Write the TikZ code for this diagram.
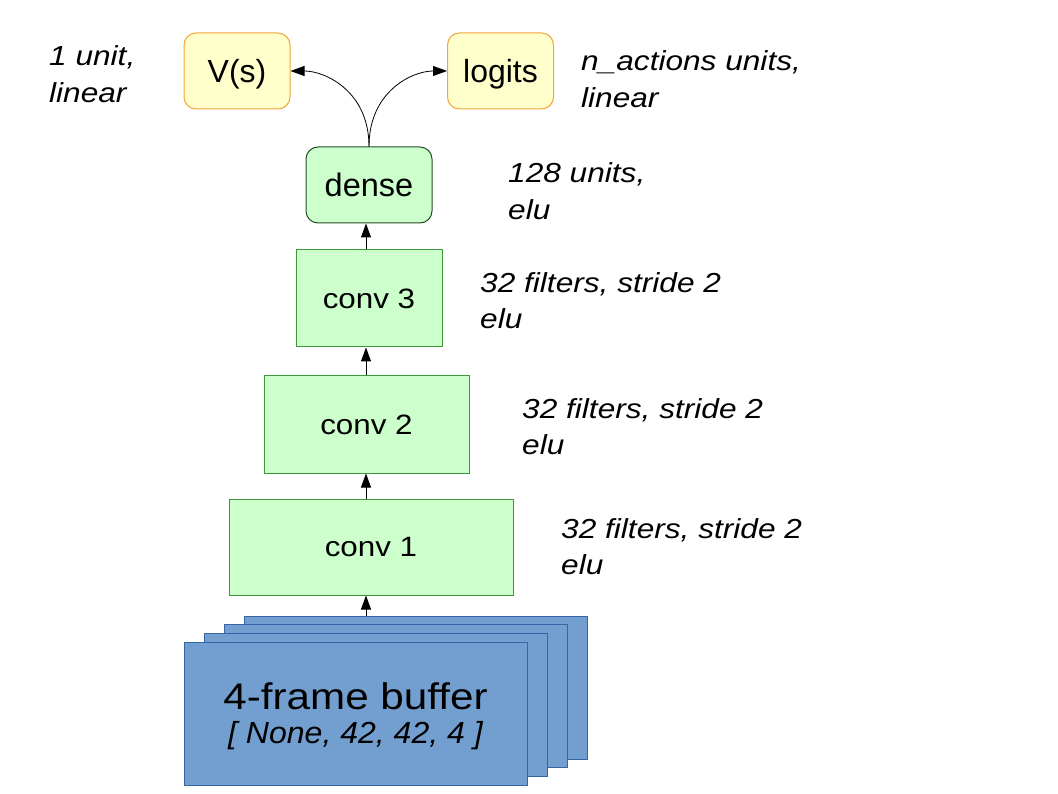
\documentclass[tikz,border=0pt]{standalone}
\usepackage{fontspec}
\setmainfont{Liberation Sans}
\newfontfamily\convfont{Liberation Sans}[FakeStretch=1.12]
\newfontfamily\notefont{Liberation Sans}[FakeStretch=1.15]
\newfontfamily\bufferfont{Liberation Sans}[FakeStretch=1.14]
\newfontfamily\shapefont{Liberation Sans}[FakeStretch=1.05]
\usetikzlibrary{arrows.meta}
\definecolor{outfill}{HTML}{FFFFCC}
\definecolor{outline}{HTML}{F2A33A}
\definecolor{layerfill}{HTML}{CCFFCC}
\definecolor{convline}{HTML}{3A9A3A}
\definecolor{denseline}{HTML}{244F24}
\definecolor{framefill}{HTML}{729FCF}
\definecolor{frameline}{HTML}{3465A4}
\tikzset{
  outbox/.style={draw=outline, fill=outfill, line width=1pt, rounded corners=12pt,
    minimum width=106pt, minimum height=76pt, inner sep=0pt, text depth=0pt,
    font=\fontsize{32}{36}\selectfont},
  densebox/.style={draw=denseline, fill=layerfill, line width=1pt, rounded corners=12pt,
    inner sep=0pt, text depth=0pt, font=\fontsize{32.5}{36}\selectfont},
  convbox/.style={draw=convline, fill=layerfill, line width=1pt, inner sep=0pt,
    font=\convfont\fontsize{28}{30}\selectfont},
  framebox/.style={draw=frameline, fill=framefill, line width=1pt, inner sep=0pt,
    minimum width=343pt, minimum height=143pt},
  % multi-line notes: the base anchor sits on the last line
  notetext/.style={anchor=base west, align=left, inner sep=0pt,
    font=\notefont\itshape\fontsize{27.5}{36.6}\selectfont},
  flow/.style={-{Triangle[length=14pt,width=10pt]}, line width=1pt},
  branch/.style={-{Triangle[length=14pt,width=10pt]}, line width=0.8pt},
}
\begin{document}
\begin{tikzpicture}[x=1pt, y=-1pt]
  \useasboundingbox (0,0) rectangle (1058,794);
  \coordinate (spine) at (366,0);

  % output heads
  \node[outbox] (vs) at (237,71) {V(s)};
  \node[outbox] (logits) at (500.5,71) {logits};

  % hidden layers
  \node[densebox, minimum width=126pt, minimum height=76pt] (dense) at (369,185) {dense};
  \node[convbox, minimum width=146pt, minimum height=97pt] (conv3) at (369,298.5) {conv 3};
  \node[convbox, minimum width=205pt, minimum height=97pt] (conv2) at (366.5,424.5) {conv 2};
  \node[convbox, minimum width=284pt, minimum height=96pt] (conv1) at (371,547) {conv 1};

  % stacked input frames, back to front
  \node[framebox] (f4) at (415.5,687.5) {};
  \node[framebox] (f3) at (395.5,696.2) {};
  \node[framebox] (f2) at (375.5,704.8) {};
  \node[framebox, align=center, text depth=0pt, font=\fontsize{30.5}{34}\selectfont] (f1) at (355.5,713.5)
    {{\bufferfont\fontsize{37}{34}\selectfont 4-frame buffer}\\{\shapefont\itshape [ None, 42, 42, 4 ]}};

  % layer annotations
  \node[notetext] (nvs) at (49,102.6) {1 unit,\\linear};
  \node[notetext] (nlogits) at (581,107.6) {n\_actions units,\\linear};
  \node[notetext] (ndense) at (508,219.6) {128 units,\\elu};
  \node[notetext] (nc3) at (480,328.6) {32 filters, stride 2\\elu};
  \node[notetext] (nc2) at (522,454.6) {32 filters, stride 2\\elu};
  \node[notetext] (nc1) at (561,574.6) {32 filters, stride 2\\elu};

  % data flow
  \draw[flow] (f4.north -| spine) -- (conv1.south -| spine);
  \draw[flow] (conv1.north -| spine) -- (conv2.south -| spine);
  \draw[flow] (conv2.north -| spine) -- (conv3.south -| spine);
  \draw[flow] (conv3.north -| spine) -- (dense.south -| spine);
  \draw[branch] (dense.north) .. controls +(0,-55) and +(35,0) .. (vs.east);
  \draw[branch] (dense.north) .. controls +(0,-55) and +(-35,0) .. (logits.west);
\end{tikzpicture}
\end{document}
